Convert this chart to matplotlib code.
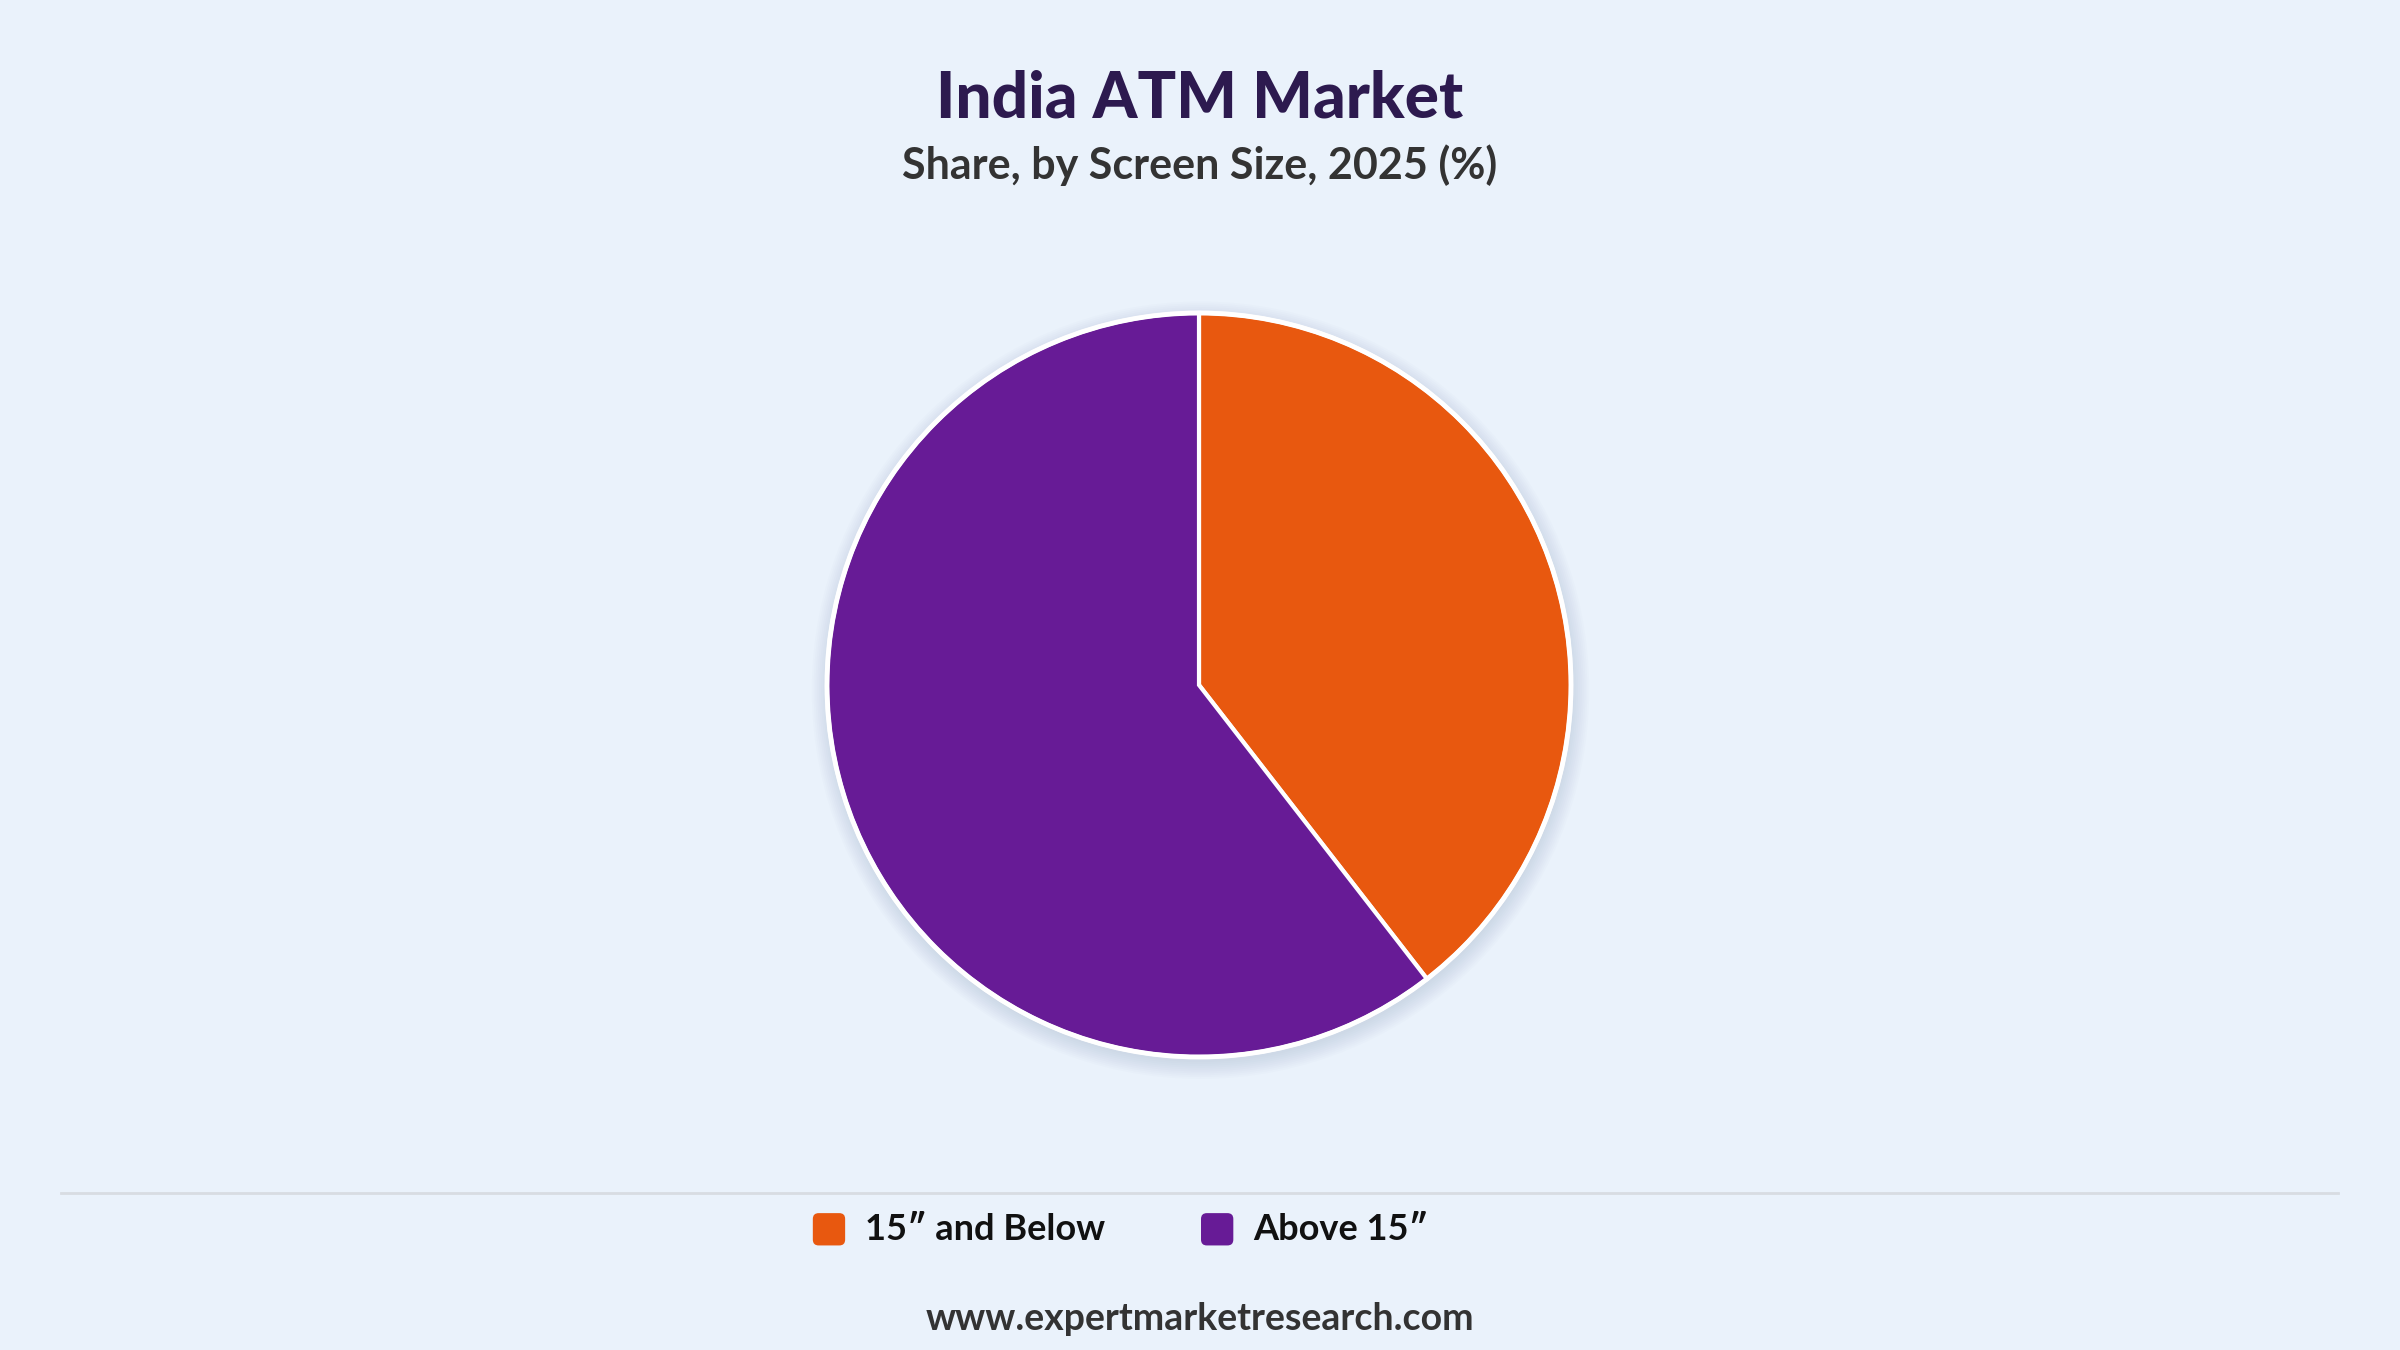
import matplotlib
matplotlib.use("Agg")
import matplotlib.pyplot as plt
from matplotlib.patches import FancyBboxPatch, Circle, Patch
from matplotlib.legend_handler import HandlerPatch
from matplotlib.lines import Line2D

# data
segments = ["15\u2033 and Below", "Above 15\u2033"]
shares = [39.5, 60.5]
colors = ["#E8580F", "#671B96"]

title = "India ATM Market"
subtitle = "Share, by Screen Size, 2025 (%)"
source = "www.expertmarketresearch.com"

bg = "#EAF2FB"
plt.rcParams["font.family"] = ["Lato", "DejaVu Sans"]

fig = plt.figure(figsize=(24, 13.5), dpi=100, facecolor=bg)

# pie axes, square in pixels
W, H = 2400, 1350
cx, cy, r = 1199, 685, 372
ax = fig.add_axes([(cx - r) / W, 1 - (cy + r) / H, 2 * r / W, 2 * r / H])
ax.axis("off")
ax.patch.set_alpha(0)

# soft shadow under the pie
for i in range(10):
    ax.add_patch(Circle((0.004, -0.014), 1.0 + 0.005 * i, fc="#7F90A6",
                        ec="none", alpha=0.022, zorder=0, clip_on=False))

ax.pie(shares, colors=colors, startangle=90, counterclock=False, radius=1,
       wedgeprops=dict(edgecolor="white", linewidth=3, zorder=2))
ax.add_patch(Circle((0, 0), 1.0, fc="none", ec="white", lw=3.5, zorder=3,
                    clip_on=False))
ax.set_xlim(-1, 1)
ax.set_ylim(-1, 1)
ax.set_aspect("auto")

fig.text(0.5, 1 - 99 / H, title, ha="center", va="center", fontsize=46,
         fontweight=900, color="#2D1A4F")
fig.text(0.5, 1 - 165 / H, subtitle, ha="center", va="center", fontsize=31,
         fontweight="bold", color="#333333")

# separator line
fig.add_artist(Line2D([61 / W, 2338 / W], [1 - 1193 / H, 1 - 1193 / H],
                      transform=fig.transFigure, color="#D8DCE2", lw=2))


class RoundBox(HandlerPatch):
    def create_artists(self, legend, orig_handle, xdescent, ydescent,
                       width, height, fontsize, trans):
        s = min(width, height)
        p = FancyBboxPatch((-xdescent + (width - s) / 2, -ydescent + (height - s) / 2 - 1),
                           s, s, boxstyle="round,pad=0,rounding_size=%f" % (s * 0.18),
                           fc=orig_handle.get_facecolor(), ec="none", transform=trans)
        return [p]


handles = [Patch(facecolor=c, label=l) for c, l in zip(colors, segments)]
leg = fig.legend(handles=handles, loc="center", bbox_to_anchor=(0.4665, 1 - 1229 / H),
                 ncol=2, frameon=False, handlelength=1.0,
                 handleheight=1.0, handletextpad=0.5, columnspacing=2.6,
                 handler_map={Patch: RoundBox()},
                 prop=dict(weight="bold", size=26))
for t in leg.get_texts():
    t.set_color("#111111")

fig.text(0.5, 1 - 1319 / H, source, ha="center", va="center", fontsize=27,
         fontweight="bold", color="#333333")

fig.savefig("out.png", dpi=100, facecolor=bg)
